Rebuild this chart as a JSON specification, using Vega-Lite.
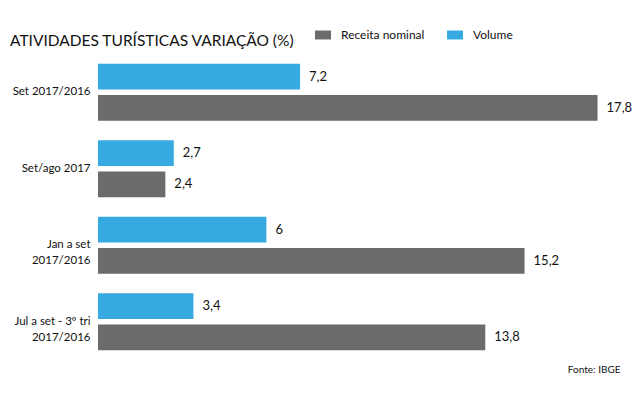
{
  "$schema": "https://vega.github.io/schema/vega-lite/v6.json",
  "autosize": {"type": "none"},
  "width": 522,
  "height": 306,
  "padding": {"left": 98, "top": 54, "right": 20, "bottom": 33},
  "background": "white",
  "config": {
    "view": {"stroke": null},
    "font": "Lato, sans-serif",
    "locale": {"number": {"decimal": ",", "thousands": ".", "grouping": [3], "currency": ["R$", ""]}}
  },
  "title": {
    "text": "ATIVIDADES TURÍSTICAS VARIAÇÃO (%)",
    "anchor": "start",
    "frame": "group",
    "dx": -88,
    "offset": -22,
    "fontSize": 15.5,
    "fontWeight": "normal",
    "color": "#111111",
    "font": "Lato, sans-serif"
  },
  "data": {
    "values": [
      {"periodo": "Set 2017/2016", "serie": "Volume", "valor": 7.2},
      {"periodo": "Set 2017/2016", "serie": "Receita nominal", "valor": 17.8},
      {"periodo": "Set/ago 2017", "serie": "Volume", "valor": 2.7},
      {"periodo": "Set/ago 2017", "serie": "Receita nominal", "valor": 2.4},
      {"periodo": "Jan a set|2017/2016", "serie": "Volume", "valor": 6},
      {"periodo": "Jan a set|2017/2016", "serie": "Receita nominal", "valor": 15.2},
      {"periodo": "Jul a set  - 3º tri|2017/2016", "serie": "Volume", "valor": 3.4},
      {"periodo": "Jul a set  - 3º tri|2017/2016", "serie": "Receita nominal", "valor": 13.8}
    ]
  },
  "encoding": {
    "y": {
      "field": "periodo",
      "type": "nominal",
      "sort": null,
      "scale": {"paddingInner": 0.255, "paddingOuter": 0.1275},
      "axis": {
        "title": null,
        "domain": false,
        "ticks": false,
        "labelPadding": 8,
        "labelFontSize": 11.5,
        "labelColor": "#111111",
        "labelLineHeight": 16,
        "labelExpr": "split(datum.label, '|')"
      }
    },
    "yOffset": {
      "field": "serie",
      "type": "nominal",
      "scale": {"domain": ["Volume", "Receita nominal"], "paddingInner": 0.18}
    },
    "x": {
      "field": "valor",
      "type": "quantitative",
      "scale": {"domain": [0, 18.6], "nice": false},
      "axis": {
        "title": "Fonte: IBGE",
        "titleAnchor": "end",
        "titleAlign": "right",
        "titleFontSize": 10,
        "titleFontWeight": "normal",
        "titleColor": "#111111",
        "titlePadding": 4,
        "domain": false,
        "ticks": false,
        "labels": false,
        "grid": false
      }
    }
  },
  "layer": [
    {
      "mark": {"type": "bar"},
      "encoding": {
        "color": {
          "field": "serie",
          "type": "nominal",
          "scale": {"domain": ["Receita nominal", "Volume"], "range": ["#6b6b6b", "#36a9e1"]},
          "legend": {
            "title": null,
            "orient": "none",
            "legendX": 217,
            "legendY": -27,
            "direction": "horizontal",
            "symbolType": "M-1,-0.56H1V0.56H-1Z",
            "symbolSize": 256,
            "symbolStrokeWidth": 0,
            "symbolOpacity": 1,
            "labelFontSize": 12,
            "labelColor": "#111111",
            "labelOffset": 10,
            "columnPadding": 22
          }
        }
      }
    },
    {
      "mark": {"type": "text", "align": "left", "baseline": "middle", "dx": 9, "fontSize": 13, "color": "#111111"},
      "encoding": {
        "text": {"field": "valor", "type": "quantitative", "format": ""}
      }
    }
  ]
}
